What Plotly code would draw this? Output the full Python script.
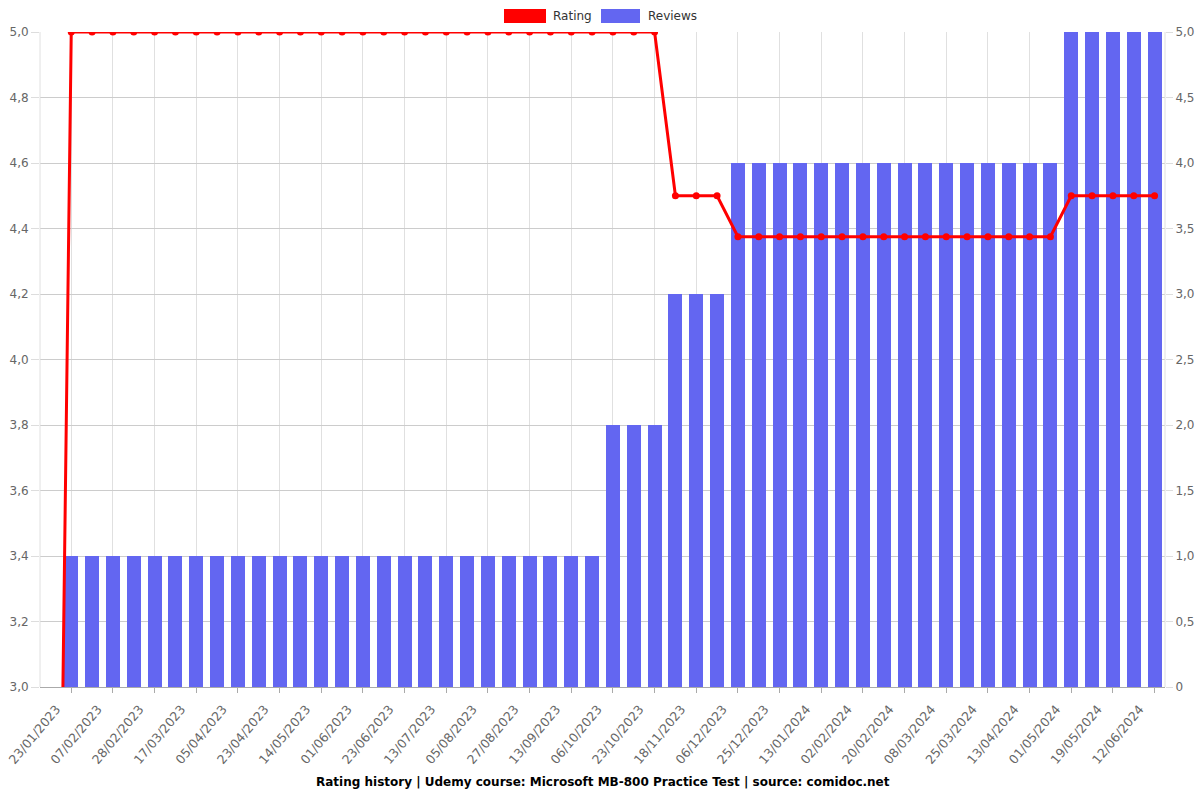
import plotly.graph_objects as go

dates = [
    "15/01/2023", "23/01/2023", "30/01/2023", "07/02/2023", "18/02/2023", "28/02/2023",
    "08/03/2023", "17/03/2023", "26/03/2023", "05/04/2023", "14/04/2023", "23/04/2023",
    "04/05/2023", "14/05/2023", "23/05/2023", "01/06/2023", "12/06/2023", "23/06/2023",
    "03/07/2023", "13/07/2023", "24/07/2023", "05/08/2023", "16/08/2023", "27/08/2023",
    "05/09/2023", "13/09/2023", "24/09/2023", "06/10/2023", "14/10/2023", "23/10/2023",
    "04/11/2023", "18/11/2023", "27/11/2023", "06/12/2023", "15/12/2023", "25/12/2023",
    "04/01/2024", "13/01/2024", "23/01/2024", "02/02/2024", "11/02/2024", "20/02/2024",
    "28/02/2024", "08/03/2024", "16/03/2024", "25/03/2024", "03/04/2024", "13/04/2024",
    "22/04/2024", "01/05/2024", "10/05/2024", "19/05/2024", "30/05/2024", "12/06/2024",
]

reviews = [0] + [1] * 26 + [2] * 3 + [3] * 3 + [4] * 16 + [5] * 5
rating = [0] + [5.0] * 29 + [4.5] * 3 + [4.375] * 16 + [4.5] * 5

tick_labels = dates[1::2]
right_tickvals = [0, 0.5, 1, 1.5, 2, 2.5, 3, 3.5, 4, 4.5, 5]
right_ticktext = ["0", "0,5", "1,0", "1,5", "2,0", "2,5", "3,0", "3,5", "4,0", "4,5", "5,0"]

FONT = "DejaVu Sans, sans-serif"

fig = go.Figure()
fig.add_trace(go.Bar(
    x=dates, y=reviews, name="Reviews", yaxis="y", width=0.67,
    marker=dict(color="#6366F1", line=dict(width=0)), showlegend=False,
))
fig.add_trace(go.Scatter(
    x=dates, y=rating, name="Rating", yaxis="y2", mode="lines+markers",
    line=dict(color="#FF0000", width=3), marker=dict(color="#FF0000", size=7),
    showlegend=False,
))

fig.update_layout(
    width=1200, height=800,
    margin=dict(l=40, r=35, t=32, b=113),
    paper_bgcolor="white", plot_bgcolor="white",
    separators=", ",
    font=dict(family=FONT, size=12, color="#666"),
    bargap=0,
    xaxis=dict(
        type="category", range=[-0.5, 53.5], automargin=False,
        tickmode="array", tickvals=tick_labels, ticktext=tick_labels,
        tickangle=-50, showgrid=True, gridcolor="#e0e0e0", gridwidth=1,
        ticks="outside", ticklen=5, tickcolor="#aaa",
        ticklabelshift=-15, ticklabelstandoff=4,
        showline=True, linecolor="#aaa", linewidth=1,
        tickfont=dict(size=12.5, color="#666"),
    ),
    yaxis=dict(
        side="right", range=[0, 5], tickmode="array", automargin=False,
        tickvals=right_tickvals, ticktext=right_ticktext,
        showgrid=True, gridcolor="#cccccc", zeroline=False,
        ticks="outside", ticklen=7, tickcolor="#ddd",
        tickfont=dict(size=12, color="#666"),
    ),
    yaxis2=dict(
        overlaying="y", side="left", range=[3, 5], dtick=0.2, automargin=False,
        tickformat=".1f", showgrid=False, zeroline=False,
        ticks="outside", ticklen=8, tickcolor="#ddd",
        tickfont=dict(size=12, color="#666"),
    ),
    shapes=[
        dict(type="line", xref="paper", yref="paper", x0=0, x1=0, y0=0, y1=1,
             line=dict(color="#e0e0e0", width=1)),
        dict(type="line", xref="paper", yref="paper", x0=1, x1=1, y0=0, y1=1,
             line=dict(color="#e0e0e0", width=1)),
        dict(type="rect", xref="paper", yref="paper",
             x0=(504 - 40) / 1125, x1=(546 - 40) / 1125,
             y0=1 + (32 - 23) / 655, y1=1 + (32 - 9) / 655,
             fillcolor="#FF0000", line=dict(width=0)),
        dict(type="rect", xref="paper", yref="paper",
             x0=(601 - 40) / 1125, x1=(640 - 40) / 1125,
             y0=1 + (32 - 23) / 655, y1=1 + (32 - 9) / 655,
             fillcolor="#6366F1", line=dict(width=0)),
    ],
    annotations=[
        dict(text="Rating", xref="paper", yref="paper",
             x=(551 - 40) / 1125, y=1 + (32 - 16) / 655, xanchor="left", yanchor="middle",
             showarrow=False, font=dict(family=FONT, size=12, color="#333")),
        dict(text="Reviews", xref="paper", yref="paper",
             x=(646 - 40) / 1125, y=1 + (32 - 16) / 655, xanchor="left", yanchor="middle",
             showarrow=False, font=dict(family=FONT, size=12, color="#333")),
        dict(text="<b>Rating history | Udemy course: Microsoft MB-800 Practice Test | source: comidoc.net</b>",
             xref="paper", yref="paper", x=0.5, y=-(782 - 687) / 655,
             xanchor="center", yanchor="middle", showarrow=False,
             font=dict(family=FONT, size=12, color="#000")),
    ],
)

fig.write_html("out.html")
